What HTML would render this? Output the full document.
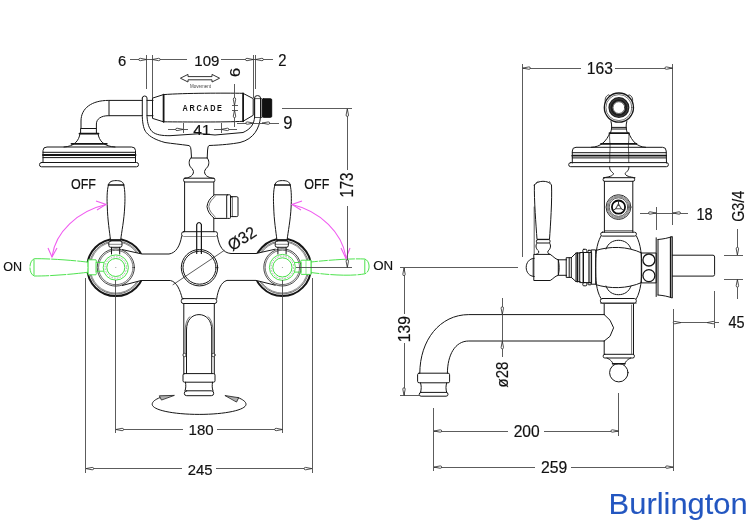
<!DOCTYPE html>
<html><head><meta charset="utf-8">
<style>
html,body{margin:0;padding:0;background:#fff;width:750px;height:529px;overflow:hidden}
svg{display:block;will-change:transform}
.dim line{shape-rendering:crispEdges}
text{font-family:"Liberation Sans",sans-serif;fill:#111;stroke:#111;stroke-width:0.18}
</style></head>
<body>
<svg width="750" height="529" viewBox="0 0 750 529">
<g fill="none" stroke="#161616" stroke-width="1" stroke-linejoin="round" stroke-linecap="round">

<!-- ============ LEFT VIEW : HANDSET ============ -->
<!-- shower head -->
<rect x="39.5" y="162.5" width="99" height="4.3" rx="2"/>
<path d="M43 162.5 L43 150.5 Q43 147 47 147 L131.5 147 Q135.5 147 135.5 150.5 L135.5 162.5"/>
<line x1="43" y1="152.3" x2="135.5" y2="152.3"/>
<line x1="43" y1="155" x2="135.5" y2="155" stroke-width="1.8"/>
<line x1="43" y1="157.6" x2="135.5" y2="157.6"/>
<path d="M64 147 C74 146.5 79 141 80 133.6 M98 133.6 C99 141 104 146.5 115 147"/>
<line x1="71.5" y1="143.8" x2="106.8" y2="143.8" stroke-width="1.8"/>
<line x1="79.5" y1="133.6" x2="98.5" y2="133.6" stroke-width="1.8"/>
<rect x="81" y="128.5" width="15.4" height="5.1"/>
<path d="M81 128.5 L81 121 C81 108 92 100.4 108.5 100.4 L142.3 100.4"/>
<path d="M96.4 128.5 L96.4 124 C96.4 119 101 115.7 108.5 115.7 L142.3 115.7"/>
<line x1="109" y1="100.4" x2="109" y2="115.7"/>
<line x1="147" y1="100.4" x2="153" y2="100.4"/>
<line x1="147" y1="115.7" x2="153" y2="115.7"/>

<!-- cradle / U bracket -->
<path d="M142.3 98 Q142.3 96 144.6 96 Q147 96 147 98 L147 116.5 C147.5 124 149 128 152 131.5 C156 135 162 135.7 170 135.7 L200 133.7 L215 135 L243 132.5 C251 129 254 124 254.6 117 L254.6 98 Q254.6 95.6 257.5 95.6 Q260.5 95.6 260.5 98 L260.5 117 C259.5 128 254 139 240 142.5 C232 144 222 145 209 145.5 Q207.8 146 207.6 150 L207.2 158"/>
<path d="M142.3 98 L142.3 116.5 C142.5 124 144 130 146.3 132.5 C150 137 156 140 165 142.5 C172 143.6 180 144.3 189.3 145.6 Q191 147 191 150 L191.5 157.5"/>
<!-- handle ARCADE -->
<path d="M152.9 98 L163.5 94.6 C185 93 225 93 243 93.3 L253.2 98.6 L253.2 115.3 L243 121.3 C225 122.3 185 122 163.5 121.8 L152.9 118.5 Z"/>
<line x1="163.6" y1="94.6" x2="163.6" y2="121.8" stroke-width="1.8"/>
<line x1="243.1" y1="93.3" x2="243.1" y2="121.3" stroke-width="1.8"/>
<!-- nut -->
<rect x="255" y="98.6" width="7" height="18.9" stroke-width="0.7"/>
<rect x="262.3" y="98.8" width="9.4" height="18.5" fill="#111" stroke="#111" rx="1"/>
<!-- stem + bulb -->
<line x1="190.8" y1="158" x2="207.2" y2="158"/>
<path d="M190.8 158 C188.5 160 188.8 165 190.5 167 C192.5 169 194 171 193.3 173 C192.5 176 189 178 184.2 178.4"/>
<path d="M207.2 158 C209.5 160 209.2 165 207.5 167 C205.5 169 204 171 204.7 173 C205.5 176 209 178 214.2 178.4"/>
<!-- upper column -->
<rect x="183.6" y="178.2" width="31.2" height="3.8" rx="1.5"/>
<path d="M184.6 182 L184.6 231.7 M213.8 182 L213.8 194.3 M213.8 218.8 L213.8 231.7"/>
<!-- side outlet -->
<path d="M213.8 194.8 L226.7 194.8 M226.7 218.4 L213.8 218.4"/>
<path d="M213.8 195.3 C210 198 207.5 202 207 206.6 C207.5 211 210 215 213.8 217.9"/>
<path d="M215.3 196.2 C212 199 209.2 202.5 208.8 206.6 C209.2 210.5 212 214 215.3 217" stroke-width="0.6"/>
<rect x="226.7" y="194.8" width="3.8" height="23.6" rx="0.8"/>
<rect x="230.5" y="196.7" width="7.5" height="19.9" rx="1.2"/>
<line x1="232.3" y1="196.7" x2="232.3" y2="216.6" stroke-width="0.7"/>
<!-- collars centre -->
<rect x="181.6" y="231.7" width="35.9" height="4.8" rx="2"/>
<!-- valves -->
<circle cx="115.8" cy="267.5" r="28.6" stroke-width="2"/>
<circle cx="115.8" cy="267.5" r="26.6" stroke-width="0.6"/>
<circle cx="115.8" cy="267.5" r="25.6" stroke-width="0.5"/>
<circle cx="282.4" cy="267.4" r="28.6" stroke-width="2"/>
<circle cx="282.4" cy="267.4" r="26.6" stroke-width="0.6"/>
<circle cx="282.4" cy="267.4" r="25.6" stroke-width="0.5"/>
<path d="M122 249.5 L142 254 L169 254 C176 253 180 246 181.6 236.5 L217.5 236.5 C219 246 223 253 231 253.5 L256 253.5 L275 249.3 L275 285.5 L256 280.4 L227 280.4 C221 282 218 290 216.7 298.6 L182.3 298.6 C180 290 177 282 170.4 280.5 L141 280.5 L122 286 Z" fill="#fff" stroke="none"/>
<path d="M122.3 249.6 L142 254 L169 254 C176 253 180 246 181.6 236.5"/>
<path d="M217.5 236.5 C219 246 223 253 231 253.5 L256 253.5 L275.2 249.2"/>
<path d="M122.3 285.5 L141 280.5 L170.4 280.5 C177 282 180 290 182.3 298.6"/>
<path d="M216.7 298.6 C218 290 221 282 227 280.4 L256 280.4 L275.2 285.2"/>
<circle cx="115.8" cy="267.5" r="18.6" stroke-width="0.8"/>
<circle cx="115.8" cy="267.5" r="17.2" stroke-width="0.6"/>
<circle cx="282.4" cy="267.4" r="18.6" stroke-width="0.8"/>
<circle cx="282.4" cy="267.4" r="17.2" stroke-width="0.6"/>
<path d="M108.5 185 C108.9 181.5 112.1 180.6 116.1 180.6 C120.1 180.6 123.3 181.5 123.7 185 C125.19999999999999 190 125.1 200 124.69999999999999 207 C124.1 220 121.6 232 120.69999999999999 240 L110.5 240 C109.6 232 107.6 220 107.3 207 C106.89999999999999 200 106.8 190 108.5 185 Z" fill="#fff"/>
<line x1="108.3" y1="185" x2="123.89999999999999" y2="185" stroke-width="1.5"/>
<line x1="110.5" y1="240" x2="120.69999999999999" y2="240" stroke-width="1.5"/>
<rect x="108.8" y="240.9" width="13.2" height="6.4" rx="2" fill="#fff"/>
<line x1="109.1" y1="244.3" x2="121.69999999999999" y2="244.3" stroke-width="0.5"/>
<path d="M111.5 247.3 L111.5 254 M119.69999999999999 247.3 L119.69999999999999 254"/>
<path d="M274.9 185 C275.3 181.5 278.5 180.6 282.5 180.6 C286.5 180.6 289.7 181.5 290.1 185 C291.6 190 291.5 200 291.1 207 C290.5 220 288.0 232 287.1 240 L276.9 240 C276.0 232 274.0 220 273.7 207 C273.3 200 273.2 190 274.9 185 Z" fill="#fff"/>
<line x1="274.7" y1="185" x2="290.3" y2="185" stroke-width="1.5"/>
<line x1="276.9" y1="240" x2="287.1" y2="240" stroke-width="1.5"/>
<rect x="275.2" y="240.9" width="13.2" height="6.4" rx="2" fill="#fff"/>
<line x1="275.5" y1="244.3" x2="288.1" y2="244.3" stroke-width="0.5"/>
<path d="M277.9 247.3 L277.9 254 M286.1 247.3 L286.1 254"/>
<!-- pin -->
<path d="M196.7 253.5 L196.7 224.5 Q199 220.5 201.4 224.5 L201.4 253.5" stroke-width="1.2"/>
<!-- centre circle -->
<circle cx="199.5" cy="267.7" r="18.2"/>
<circle cx="199.5" cy="267.7" r="16.5"/>
<!-- dia 32 line -->
<line x1="173" y1="284.7" x2="224" y2="250.6" stroke-width="0.7"/>
<!-- lower column -->
<rect x="181.3" y="298.6" width="35.4" height="4.9" rx="2"/>
<path d="M183.8 303.5 L183.8 373.6 M214.3 303.5 L214.3 373.6"/>
<path d="M186.5 373.6 L186.5 330 C186.5 320 192 314.6 199 314.6 C206 314.6 211.7 320 211.7 330 L211.7 373.6"/>
<path d="M185.2 353 L185.2 330 C185.5 322 188 318 190 316.5 M212.9 353 L212.9 330 C212.6 322 210 318 208 316.5" stroke-width="0.6"/>
<circle cx="184.6" cy="355" r="1.7" fill="#fff" stroke-width="0.8"/><circle cx="213.4" cy="355" r="1.7" fill="#fff" stroke-width="0.8"/>
<rect x="183" y="373.6" width="32" height="8.6" rx="1.5"/>
<path d="M185.5 382.2 C186 386 186 388 185 390.8 M212.5 382.2 C212 386 212 388 213 390.8"/>
<rect x="184.3" y="390.8" width="29.4" height="4.9" rx="2.4"/>
<!-- rotation ellipse -->
<path d="M160 397.6 C155 399.5 152.2 401.8 152.2 404.3 C152.2 410 173 414.4 199.2 414.4 C225 414.4 246 410 246 404.3 C246 401.8 243 399.5 238 397.6"/>
<path d="M174 395.4 L159.3 395.8 L161.3 399.7 Z" fill="#b0b0b0" stroke-width="0.8"/>
<path d="M225.3 395.6 L238.7 397.7 L236.7 401.7 Z" fill="#b0b0b0" stroke-width="0.8"/>

</g>

<!-- green ON levers -->
<g fill="none" stroke="#45e045" stroke-width="0.95">
<path d="M34.3 258.7 C50 258.5 75 260.5 88.1 262.2 L88.1 272.2 C75 274 50 276.2 34.3 276 C28.5 274 28.5 261 34.3 258.7 Z" fill="#fff" stroke-dasharray="16 1 25 1"/>
<line x1="34" y1="259.3" x2="34" y2="275.5"/>
<path d="M88.1 259.8 L95.9 259.8 Q96.8 261 96 262.4 L96 272 Q96.8 273.6 95.9 274.8 L88.1 274.8 Z" fill="#fff"/>
<path d="M96 262.4 L104 262.4 M96 271.2 L104 271.2"/>
<circle cx="115.8" cy="267.5" r="12.6" fill="#fff"/>
<circle cx="115.8" cy="267.5" r="9" stroke-width="1"/>
<circle cx="115.8" cy="267.5" r="10.7" stroke="#777" stroke-width="0.6" stroke-dasharray="1.6 1.2"/>
<path d="M364.8 259 C350 258.3 325 260.5 311 262 L311 272.5 C325 274.5 350 276.7 364.8 273.8 C370.5 272 370.5 261 364.8 259 Z" fill="#fff" stroke-dasharray="9 1 26 1"/>
<line x1="364.8" y1="259.5" x2="364.8" y2="273.5"/>
<path d="M311 260.2 L301.3 260.2 Q300.4 261.5 301.2 262.5 L301.2 272.1 Q300.4 273.2 301.3 274.4 L311 274.4 Z" fill="#fff"/>
<line x1="306" y1="260.5" x2="306" y2="274" stroke-width="0.6"/>
<path d="M301.2 262.5 L294 262.5 M301.2 272.1 L294 272.1"/>
<circle cx="282.4" cy="267.4" r="13" fill="#fff"/>
<circle cx="282.4" cy="267.4" r="9.6" stroke-width="1"/>
<circle cx="282.4" cy="267.4" r="11.3" stroke="#777" stroke-width="0.6" stroke-dasharray="1.6 1.2"/>
</g>
<circle cx="115.8" cy="267.5" r="0.5" fill="#888"/>
<circle cx="282.4" cy="267.4" r="0.5" fill="#888"/>
<!-- magenta arcs -->
<g fill="none" stroke="#f05cf0" stroke-width="1.1">
<path d="M52 257 C55 232 78 211 106 204.5"/>
<path d="M96 201 L106 204.5 L97 210"/>
<path d="M48 248 L52 257 L57 248"/>
<path d="M346 258.5 C343 233 320 211 292 204.5"/>
<path d="M302 201 L292 204.5 L301 210"/>
<path d="M350 248 L346 258.5 L341 248"/>
</g>

<!-- ============ LEFT VIEW DIMENSIONS ============ -->
<g class="dim" fill="none" stroke="#4a4a4a" stroke-width="0.9">
<!-- top -->
<line x1="130" y1="59.5" x2="187.4" y2="59.5"/>
<line x1="221.3" y1="59.5" x2="272.7" y2="59.5"/>
<line x1="146.5" y1="55" x2="146.5" y2="89"/>
<line x1="152.4" y1="55" x2="152.4" y2="98"/>
<line x1="253.2" y1="55" x2="253.2" y2="98"/>
<line x1="255.7" y1="55" x2="255.7" y2="88.5"/>
<path d="M146.50 59.50 L140.30 58.30 Q138.80 58.30 138.80 59.50 Q138.80 60.70 140.30 60.70 Z" fill="#fff" stroke="#333" stroke-width="0.85"/>
<path d="M152.40 59.50 L158.60 60.70 Q160.10 60.70 160.10 59.50 Q160.10 58.30 158.60 58.30 Z" fill="#fff" stroke="#333" stroke-width="0.85"/>
<path d="M253.20 59.50 L247.00 58.30 Q245.50 58.30 245.50 59.50 Q245.50 60.70 247.00 60.70 Z" fill="#fff" stroke="#333" stroke-width="0.85"/>
<path d="M255.70 59.50 L261.90 60.70 Q263.40 60.70 263.40 59.50 Q263.40 58.30 261.90 58.30 Z" fill="#fff" stroke="#333" stroke-width="0.85"/>
<!-- movement arrow -->
<path d="M180.4 78.2 L188 74.4 L188 76.6 L212 76.6 L212 74.4 L219.6 78.2 L212 82 L212 79.8 L188 79.8 L188 82 Z" stroke="#333" stroke-width="1"/>

<!-- 6 vertical -->
<line x1="234.5" y1="84" x2="234.5" y2="126.5"/>
<path d="M234.50 105.40 L235.70 99.20 Q235.70 97.70 234.50 97.70 Q233.30 97.70 233.30 99.20 Z" fill="#fff" stroke="#333" stroke-width="0.85"/>
<path d="M234.50 110.00 L233.30 116.20 Q233.30 117.70 234.50 117.70 Q235.70 117.70 235.70 116.20 Z" fill="#fff" stroke="#333" stroke-width="0.85"/>
<line x1="232" y1="105.4" x2="238" y2="105.4"/>
<line x1="232" y1="110" x2="238" y2="110"/>
<!-- 9 -->
<line x1="237" y1="123.1" x2="278.7" y2="123.1"/>
<path d="M253.50 123.10 L247.30 121.90 Q245.80 121.90 245.80 123.10 Q245.80 124.30 247.30 124.30 Z" fill="#fff" stroke="#333" stroke-width="0.85"/>
<path d="M262.00 123.10 L268.20 124.30 Q269.70 124.30 269.70 123.10 Q269.70 121.90 268.20 121.90 Z" fill="#fff" stroke="#333" stroke-width="0.85"/>
<!-- 41 -->
<line x1="167.5" y1="129.4" x2="188" y2="129.4"/>
<line x1="213.6" y1="129.4" x2="237" y2="129.4"/>
<path d="M183.30 129.40 L177.10 128.20 Q175.60 128.20 175.60 129.40 Q175.60 130.60 177.10 130.60 Z" fill="#fff" stroke="#333" stroke-width="0.85"/>
<path d="M221.20 129.40 L227.40 130.60 Q228.90 130.60 228.90 129.40 Q228.90 128.20 227.40 128.20 Z" fill="#fff" stroke="#333" stroke-width="0.85"/>
<line x1="183.3" y1="123" x2="183.3" y2="133"/>
<line x1="221.2" y1="123" x2="221.2" y2="133"/>
<!-- 173 -->
<line x1="282" y1="108.6" x2="352" y2="108.6"/>
<line x1="347.3" y1="108.6" x2="347.3" y2="170.3"/>
<line x1="347.3" y1="205.5" x2="347.3" y2="267.8"/>
<path d="M347.30 108.80 L346.10 115.00 Q346.10 116.50 347.30 116.50 Q348.50 116.50 348.50 115.00 Z" fill="#fff" stroke="#333" stroke-width="0.85"/>
<line x1="295.6" y1="267.8" x2="352" y2="267.8"/>
<path d="M347.30 267.40 L348.50 261.20 Q348.50 259.70 347.30 259.70 Q346.10 259.70 346.10 261.20 Z" fill="#fff" stroke="#333" stroke-width="0.85"/>
<!-- 180 / 245 -->
<line x1="115.7" y1="280" x2="115.7" y2="433"/>
<line x1="282.6" y1="280" x2="282.6" y2="433"/>
<line x1="85.8" y1="278" x2="85.8" y2="473"/>
<line x1="312" y1="278" x2="312" y2="473"/>
<line x1="115.7" y1="429.5" x2="183" y2="429.5"/>
<line x1="217" y1="429.5" x2="282.6" y2="429.5"/>
<line x1="85.8" y1="468.6" x2="182" y2="468.6"/>
<line x1="216" y1="468.6" x2="312" y2="468.6"/>
<path d="M115.90 429.50 L122.10 430.70 Q123.60 430.70 123.60 429.50 Q123.60 428.30 122.10 428.30 Z" fill="#fff" stroke="#333" stroke-width="0.85"/>
<path d="M282.40 429.50 L276.20 428.30 Q274.70 428.30 274.70 429.50 Q274.70 430.70 276.20 430.70 Z" fill="#fff" stroke="#333" stroke-width="0.85"/>
<path d="M86.00 468.60 L92.20 469.80 Q93.70 469.80 93.70 468.60 Q93.70 467.40 92.20 467.40 Z" fill="#fff" stroke="#333" stroke-width="0.85"/>
<path d="M311.80 468.60 L305.60 467.40 Q304.10 467.40 304.10 468.60 Q304.10 469.80 305.60 469.80 Z" fill="#fff" stroke="#333" stroke-width="0.85"/>
</g>

<!-- left view texts -->
<g font-size="16">
<text transform="translate(117.93 66.00) scale(0.926 0.967)">6</text>
<text transform="translate(194.33 65.80) scale(0.938 0.951)">109</text>
<text transform="translate(278.24 65.65) scale(0.926 0.990)">2</text>
<text transform="translate(283.34 129.12) scale(1.040 1.122)">9</text>
<text transform="translate(193.3 134.7) scale(0.97 0.95)">41</text>
<text transform="translate(188.54 434.61) scale(0.938 0.972)">180</text>
<text transform="translate(187.63 474.84) scale(0.930 0.919)">245</text>
<text transform="translate(239.62 77.00) rotate(-90) scale(1.024 0.951)">6</text>
<text transform="translate(352.56 197.55) rotate(-90) scale(0.936 1.122)">173</text>
<text transform="translate(232.3 251.6) rotate(-33) scale(0.97 1)" font-size="16.5">Ø32</text>
</g>
<g font-size="14.5">
<text transform="translate(70.90 188.80) scale(0.864 1.000)">OFF</text>
<text transform="translate(304.37 188.60) scale(0.864 1.000)">OFF</text>
<text transform="translate(3.20 270.59) scale(0.866 0.922)">ON</text>
<text transform="translate(373.15 270.41) scale(0.919 0.922)">ON</text>
</g>
<text transform="translate(182.6 111.3) scale(0.86 1.09)" font-size="8.5" font-weight="bold" letter-spacing="1.9" style="stroke:none">ARCADE</text>
<text transform="translate(200.5 88) scale(0.999 1)" font-size="4.5" text-anchor="middle" style="fill:#444;stroke:none">Movement</text>

<!-- ============ RIGHT VIEW ============ -->
<g id="rv" fill="none" stroke="#161616" stroke-width="1" stroke-linejoin="round" stroke-linecap="round">
<!-- handset end view -->
<path d="M605.5 103 C604.5 99 605.5 96 608.8 94.8 C610 95.5 610.5 96.5 610.3 97.3 M632.3 103 C633.3 99 632.3 96 629 94.8 C627.8 95.5 627.3 96.5 627.5 97.3" stroke-width="0.8"/>
<circle cx="618.9" cy="107.6" r="14.6" stroke-width="1.3" fill="#fff"/>
<circle cx="618.9" cy="107.6" r="13" stroke-width="0.6"/>
<circle cx="618.9" cy="107.6" r="8.4" stroke-width="4.2" stroke="#1d1d1d"/>
<circle cx="618.9" cy="107.6" r="8.9" stroke-width="0.5" stroke="#666"/>
<circle cx="618.9" cy="107.6" r="5.9" stroke-width="0.7"/>
<path d="M611 121.5 C612 125 612 129 610.5 133 M626.8 121.5 C625.8 125 625.8 129 627.3 133"/>
<line x1="611.5" y1="127.4" x2="626.3" y2="127.4"/>
<line x1="611.5" y1="129" x2="626.3" y2="129"/>
<!-- shower head side -->
<line x1="609.5" y1="133.2" x2="628.8" y2="133.2" stroke-width="1.8"/>
<path d="M609.7 133.2 C606.5 141 601 147 591.4 147.3 M628.8 133.2 C632 141 637 147 645.6 147.3"/>
<line x1="601" y1="143.9" x2="636.5" y2="143.9" stroke-width="1.8"/>
<path d="M572.3 163 L572.3 151 Q572.3 147.3 576 147.3 L662.5 147.3 Q666.2 147.3 666.2 151 L666.5 163"/>
<line x1="572.3" y1="152.7" x2="666.2" y2="152.7"/>
<line x1="572.3" y1="155.7" x2="666.2" y2="155.7" stroke-width="1.8"/>
<line x1="572.3" y1="157.9" x2="666.2" y2="157.9"/>
<rect x="568.7" y="162.6" width="99.7" height="4.1" rx="2"/>
<path d="M609.7 133.2 C609 138 610.5 143 610 150 C609.5 156 610 158 609.7 162.6 M628.8 133.2 C629.5 138 628 143 628.5 150 C629 156 628.5 158 628.8 162.6" stroke-width="0.7"/>
<!-- bulb below head -->
<path d="M609.7 166.7 C609 170 612 172 613.5 173.5 C613 176 609 177 603.5 177.7"/>
<path d="M628.8 166.7 C629.5 170 626.5 172 625 173.5 C625.5 176 629.5 177 635 177.7"/>
<rect x="603.1" y="177.7" width="31.5" height="3.6" rx="1.5"/>
<!-- upper body -->
<path d="M604.4 181.3 L604.4 232.2 M632.8 181.3 L632.8 232.2"/>
<line x1="604.4" y1="230.6" x2="632.8" y2="230.6" stroke-width="0.6"/>
<rect x="600.7" y="232.2" width="35.7" height="3.9" rx="1.8"/>
<!-- port -->
<circle cx="618.5" cy="207.1" r="12.4" stroke-width="1" stroke="#333"/>
<circle cx="618.5" cy="207.1" r="11.4" stroke-width="0.7" stroke="#555"/>
<circle cx="618.5" cy="207.1" r="10.4" stroke-width="0.7" stroke="#444"/>
<circle cx="618.5" cy="207.1" r="9.3" stroke-width="0.8" stroke="#333"/>
<circle cx="618.5" cy="207.1" r="6.6" stroke-width="1.8" stroke="#0a0a0a"/>
<path d="M618.5 203.9 L621.3 208.7 L615.7 208.7 Z" stroke-width="1.1" stroke="#555"/>
<path d="M618.5 203.9 L618.5 200.8 M621.3 208.7 L624 210.4 M615.7 208.7 L613 210.4" stroke-width="1" stroke="#333"/>
<!-- barrel -->
<path d="M600.9 236.1 C596 245 595.7 255 595.7 267.5 C595.7 280 596 290 600.9 298.5"/>
<path d="M636.5 236.1 C641 245 641.7 255 641.7 267.5 C641.7 280 641 290 636.5 298.5"/>
<path d="M606 249 C608 243 613 240.3 618.5 240.3 C624 240.3 629 243 631 249"/>
<path d="M606 286 C608 292 613 294.7 618.5 294.7 C624 294.7 629 292 631 286"/>
<path d="M595.7 250.5 C610 246 627 246 641.7 253"/>
<path d="M595.7 284.6 C610 289 627 289 641.7 282.5"/>
<rect x="600.4" y="298.5" width="35.9" height="4.7" rx="2"/>
<!-- flange left of barrel -->
<rect x="591.6" y="249.9" width="4.1" height="34.3"/>
<rect x="580.1" y="252.5" width="11.5" height="30.1"/>
<line x1="583.3" y1="252.5" x2="583.3" y2="282.6" stroke-width="1.4"/>
<line x1="589" y1="252.5" x2="589" y2="282.6" stroke-width="1.2"/>
<rect x="582.8" y="249.3" width="4" height="3.2" rx="1"/>
<rect x="588" y="250.3" width="3.2" height="2.2" rx="0.8"/>
<rect x="582.8" y="282.6" width="4" height="3.2" rx="1"/>
<rect x="588" y="282.6" width="3.2" height="2.2" rx="0.8"/>
<path d="M571.3 257.7 L576 253 L580.1 253 M571.3 277.4 L576 281.6 L580.1 281.6"/>
<line x1="576" y1="253" x2="576" y2="281.6"/>
<line x1="577.5" y1="253" x2="577.5" y2="281.6" stroke-width="1.6"/>
<rect x="566.6" y="257.7" width="4.7" height="19.7"/>
<line x1="569.2" y1="257.7" x2="569.2" y2="277.4"/>
<path d="M558.3 259.8 C559.5 265 559.5 270 558.3 275.3 L566.6 275.3 M558.3 259.8 L566.6 259.8"/>
<!-- lever -->
<path d="M534.4 185 C534 200 536 225 537 239.3 L549.5 239.3 C550.5 225 552.2 200 551.5 185 C549 180 537 180 534.4 185 Z"/>
<path d="M536 183 L538 181.5 M549.5 181.5 L550.5 183" stroke-width="0.6"/>
<rect x="536.4" y="239.6" width="13.6" height="3.4" rx="1.2"/>
<path d="M537 243 C535 245.5 536 249 538.6 251 C539 253 538.5 253.8 536 254.4 M549.5 243 C551.5 245.5 550.5 249 548 251 C547.5 253 548 253.8 550.2 254.4"/>
<line x1="534.2" y1="207" x2="534.2" y2="254.4" stroke-width="0.7"/>
<path d="M534.2 254.4 L550.2 254.4 C553 256 555 259 558.3 259.8 L558.3 275.3 C555 276 553 279 550.2 280.5 L534.2 280.5 Z"/>
<path d="M534.2 258.3 C529 258.5 526.2 263 526.2 267.4 C526.2 272 529 276.3 534.2 276.5"/>
<line x1="533" y1="258.3" x2="533" y2="276.5" stroke-width="0.6"/>
<!-- right of barrel : circles + flange + pipe -->
<rect x="641.7" y="253" width="14.5" height="29.9"/>
<circle cx="648.9" cy="260" r="6" stroke-width="1.3"/>
<circle cx="648.9" cy="275.6" r="6" stroke-width="1.3"/>
<path d="M656.2 237.8 L656.2 296.5 M658 239.5 L658 295"/>
<path d="M658 239.5 C664 239 668 238 672.3 236.5 L672.3 298 C668 296.5 664 295.5 658 295"/>
<line x1="670.6" y1="237.2" x2="670.6" y2="297.3" stroke-width="1.5"/>
<path d="M672.3 255.2 L713 255.2 Q714.6 255.2 714.6 257 L714.6 274.5 Q714.6 276.1 713 276.1 L672.3 276.1"/>
<!-- lower column -->
<line x1="600.4" y1="303.2" x2="636.3" y2="303.2" stroke-width="0.6"/>
<path d="M604.2 304.2 L604.2 314.6 M604.2 341 L604.2 354.3 M633.5 304.2 L633.5 354.3"/>
<line x1="631.6" y1="305" x2="631.6" y2="353.5" stroke-width="0.6"/>
<path d="M604.2 314.6 L610 320.2 L613.6 327.8 L610 336.3 L604.2 341"/>
<rect x="603.2" y="354.3" width="31.2" height="3.7" rx="1.6"/>
<path d="M607 358 C611 360 612.5 362 613 364 M630.7 358 C626.7 360 625.2 362 624.7 364"/>
<line x1="612.5" y1="363.7" x2="625" y2="363.7" stroke-width="1.4"/>
<circle cx="618.8" cy="372.7" r="9.2"/>
<!-- spout -->
<path d="M604.2 314.6 L468.8 314.6 C440 314.6 419.8 340 419.8 373.2"/>
<path d="M604.2 341 L468.8 341 C455 341 447.4 355 447.4 373.2"/>
<rect x="417.6" y="373.2" width="32" height="9.6" rx="1.5"/>
<path d="M420.5 382.8 C421.5 386 421.5 389 420.5 392.4 M446.7 382.8 C445.7 386 445.7 389 446.7 392.4"/>
<rect x="419.2" y="392.4" width="28.8" height="3.8" rx="1.9"/>
</g>

<!-- right view dimensions -->
<g class="dim" fill="none" stroke="#4a4a4a" stroke-width="0.9">
<line x1="522.5" y1="63.6" x2="522.5" y2="256.6"/>
<line x1="672.8" y1="63.6" x2="672.8" y2="225"/>
<line x1="522.5" y1="68.1" x2="581" y2="68.1"/>
<line x1="614.7" y1="68.1" x2="672.8" y2="68.1"/>
<path d="M522.70 68.10 L528.90 69.30 Q530.40 69.30 530.40 68.10 Q530.40 66.90 528.90 66.90 Z" fill="#fff" stroke="#333" stroke-width="0.85"/>
<path d="M672.60 68.10 L666.40 66.90 Q664.90 66.90 664.90 68.10 Q664.90 69.30 666.40 69.30 Z" fill="#fff" stroke="#333" stroke-width="0.85"/>
<!-- 18 -->
<line x1="640" y1="213" x2="688.2" y2="213"/>
<line x1="656.2" y1="207" x2="656.2" y2="229.5"/>
<path d="M656.20 213.00 L650.00 211.80 Q648.50 211.80 648.50 213.00 Q648.50 214.20 650.00 214.20 Z" fill="#fff" stroke="#333" stroke-width="0.85"/>
<path d="M672.80 213.00 L679.00 214.20 Q680.50 214.20 680.50 213.00 Q680.50 211.80 679.00 211.80 Z" fill="#fff" stroke="#333" stroke-width="0.85"/>
<!-- G3/4 -->
<line x1="723.6" y1="255.2" x2="743" y2="255.2"/>
<line x1="723.6" y1="279.3" x2="743" y2="279.3"/>
<line x1="737.4" y1="229" x2="737.4" y2="255.2"/>
<line x1="737.4" y1="279.3" x2="737.4" y2="298.6"/>
<path d="M737.40 255.00 L738.60 248.80 Q738.60 247.30 737.40 247.30 Q736.20 247.30 736.20 248.80 Z" fill="#fff" stroke="#333" stroke-width="0.85"/>
<path d="M737.40 279.50 L736.20 285.70 Q736.20 287.20 737.40 287.20 Q738.60 287.20 738.60 285.70 Z" fill="#fff" stroke="#333" stroke-width="0.85"/>
<!-- 45 -->
<line x1="673.4" y1="308.7" x2="673.4" y2="471"/>
<line x1="714.6" y1="290.6" x2="714.6" y2="327.6"/>
<line x1="673.4" y1="322.6" x2="719" y2="322.6"/>
<path d="M681.00 322.60 L674.80 321.40 Q673.30 321.40 673.30 322.60 Q673.30 323.80 674.80 323.80 Z" fill="#fff" stroke="#333" stroke-width="0.85"/>
<path d="M707.00 322.60 L713.20 323.80 Q714.70 323.80 714.70 322.60 Q714.70 321.40 713.20 321.40 Z" fill="#fff" stroke="#333" stroke-width="0.85"/>
<!-- ON / 139 -->
<line x1="400.2" y1="267.7" x2="518" y2="267.7"/>
<line x1="404" y1="267.7" x2="404" y2="313.7"/>
<line x1="404" y1="342.8" x2="404" y2="395.6"/>
<line x1="400" y1="395.6" x2="419" y2="395.6"/>
<path d="M404.00 268.00 L402.80 274.20 Q402.80 275.70 404.00 275.70 Q405.20 275.70 405.20 274.20 Z" fill="#fff" stroke="#333" stroke-width="0.85"/>
<path d="M404.00 395.40 L405.20 389.20 Q405.20 387.70 404.00 387.70 Q402.80 387.70 402.80 389.20 Z" fill="#fff" stroke="#333" stroke-width="0.85"/>
<!-- dia 28 -->
<line x1="502.3" y1="298" x2="502.3" y2="357.2"/>
<path d="M502.30 314.40 L503.50 308.20 Q503.50 306.70 502.30 306.70 Q501.10 306.70 501.10 308.20 Z" fill="#fff" stroke="#333" stroke-width="0.85"/>
<path d="M502.30 341.20 L501.10 347.40 Q501.10 348.90 502.30 348.90 Q503.50 348.90 503.50 347.40 Z" fill="#fff" stroke="#333" stroke-width="0.85"/>
<!-- 200 / 259 -->
<line x1="433.8" y1="407.6" x2="433.8" y2="470.6"/>
<line x1="618.8" y1="393" x2="618.8" y2="435.5"/>
<line x1="433.8" y1="431" x2="507.8" y2="431"/>
<line x1="544.2" y1="431" x2="618.8" y2="431"/>
<line x1="433.8" y1="467.1" x2="535" y2="467.1"/>
<line x1="571.4" y1="467.1" x2="673.4" y2="467.1"/>
<path d="M434.00 431.00 L440.20 432.20 Q441.70 432.20 441.70 431.00 Q441.70 429.80 440.20 429.80 Z" fill="#fff" stroke="#333" stroke-width="0.85"/>
<path d="M618.60 431.00 L612.40 429.80 Q610.90 429.80 610.90 431.00 Q610.90 432.20 612.40 432.20 Z" fill="#fff" stroke="#333" stroke-width="0.85"/>
<path d="M434.00 467.10 L440.20 468.30 Q441.70 468.30 441.70 467.10 Q441.70 465.90 440.20 465.90 Z" fill="#fff" stroke="#333" stroke-width="0.85"/>
<path d="M673.20 467.10 L667.00 465.90 Q665.50 465.90 665.50 467.10 Q665.50 468.30 667.00 468.30 Z" fill="#fff" stroke="#333" stroke-width="0.85"/>
</g>
<g font-size="15">
<text transform="translate(586.75 73.78) scale(1.042 1.102)">163</text>
<text transform="translate(696.42 219.96) scale(0.973 1.121)">18</text>
<text transform="translate(728.59 328.05) scale(0.963 1.064)">45</text>
<text transform="translate(513.68 437.00) scale(1.041 1.064)">200</text>
<text transform="translate(541.07 473.19) scale(1.050 1.053)">259</text>
<text transform="translate(409.62 342.25) rotate(-90) scale(1.043 1.121)">139</text>
<text transform="translate(507.98 387.40) rotate(-90) scale(0.991 1.053)">ø28</text>
<text transform="translate(744.30 221.79) rotate(-90) scale(0.956 1.055)">G3/4</text>
</g>


<text transform="translate(608.6 514.2) scale(1.030 1.0)" font-size="30" style="fill:#2356c0;stroke:#2356c0;stroke-width:0.1">Burlington</text>
</svg>
</body></html>
